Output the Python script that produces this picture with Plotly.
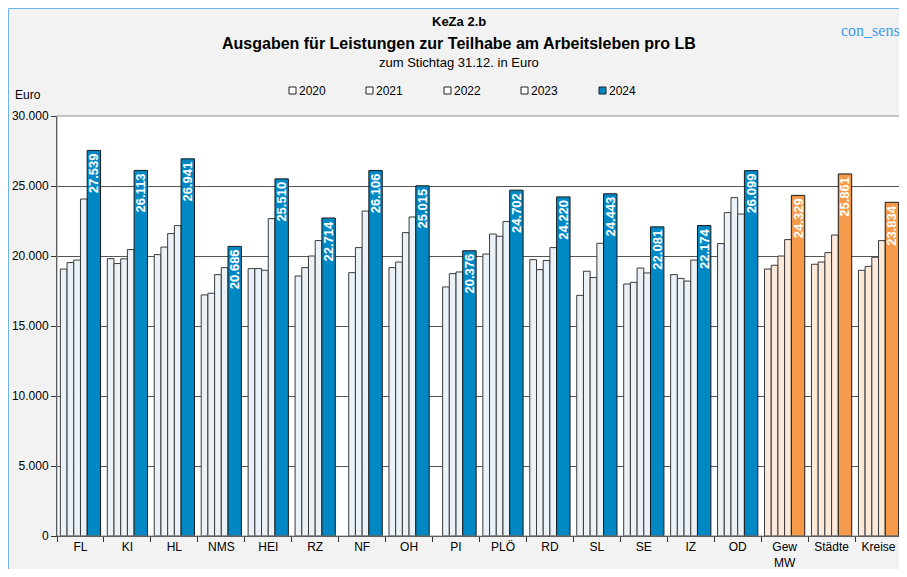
import plotly.graph_objects as go

# Kategorien und Werte
cats = ["FL", "KI", "HL", "NMS", "HEI", "RZ", "NF", "OH", "PI", "PLÖ",
        "RD", "SL", "SE", "IZ", "OD", "Gew<br>MW", "Städte", "Kreise"]
years = ["2020", "2021", "2022", "2023", "2024"]

v2020 = [19070, 19810, 20100, 17220, 19100, 18570, None, 19170, None, 20140,
         19740, 17190, 18000, 18670, 20890, 19070, 19410, 18980]
v2021 = [19530, 19460, 20640, 17340, 19100, 19170, 18810, 19570, 17790, 21570,
         19030, 18910, 18120, 18400, 23100, 19340, 19570, 19260]
v2022 = [19710, 19800, 21600, 18670, 18980, 20000, 20600, 21670, 18740, 21410,
         19680, 18460, 19140, 18210, 24170, 20000, 20240, 19910]
v2023 = [24070, 20460, 22170, 19170, 22670, 21100, 23210, 22790, 18860, 22460,
         20600, 20910, 18790, 19710, 23000, 21170, 21500, 21100]
v2024 = [27539, 26113, 26941, 20686, 25510, 22714, 26106, 25015, 20376, 24702,
         24220, 24443, 22081, 22174, 26099, 24329, 25861, 23834]

n_ref = 3  # Gew MW, Städte, Kreise in Orange

LIGHT = "#EAF2F8"
LIGHT_OR = "#FDE9D9"
BLUE = "#0088C4"
ORANGE = "#F59A4A"
EDGE = "#3a3a3a"
FONT = "Liberation Sans"

# Seite 907x577, Body hat 8px Rand -> Figur kleiner, damit nichts scrollt
OFF = 8
W, H = 907 - OFF, 577 - 2 * OFF
ML, MR, MT = 57 - OFF, 5, 116 - OFF
MB = H - (536 - OFF)
PW, PH = W - ML - MR, H - MT - MB


def px(x):
    # Seitenkoordinate -> paper
    return (x - OFF - ML) / PW


def py(y):
    return (H - MB - (y - OFF)) / PH


fig = go.Figure()

unit = 1 / 7
light_cols = [LIGHT] * (len(cats) - n_ref) + [LIGHT_OR] * n_ref
for i, vals in enumerate([v2020, v2021, v2022, v2023]):
    fig.add_trace(go.Bar(
        x=cats, y=vals, name=years[i],
        offset=-3 * unit + i * unit, width=unit,
        marker=dict(color=light_cols, line=dict(color=EDGE, width=1)),
        showlegend=False, hoverinfo="x+y",
    ))

fig.add_trace(go.Bar(
    x=cats, y=v2024, name="2024",
    offset=unit, width=2 * unit,
    marker=dict(color=[BLUE] * (len(cats) - n_ref) + [ORANGE] * n_ref,
                line=dict(color="#1a1a1a", width=1)),
    texttemplate="%{y:,.0f}", textposition="inside",
    insidetextanchor="end", textangle=-90, constraintext="none",
    textfont=dict(family=FONT, size=13, color="white", weight="bold"),
    showlegend=False, hoverinfo="x+y",
))

shapes = [
    # blauer Rahmen
    dict(type="line", xref="paper", yref="paper", x0=px(8.5), x1=px(8.5),
         y0=py(600), y1=py(8.5), line=dict(color="#6CB4E4", width=1)),
    dict(type="line", xref="paper", yref="paper", x0=px(8.5), x1=px(930),
         y0=py(8.5), y1=py(8.5), line=dict(color="#6CB4E4", width=1)),
    # Rahmen der Zeichenfläche
    dict(type="rect", xref="paper", yref="paper", x0=0, x1=1, y0=0, y1=1,
         line=dict(color="#8c8c8c", width=1), layer="above"),
]

annotations = [
    dict(text="<b>KeZa 2.b</b>", x=px(459), y=py(22), font=dict(size=13)),
    dict(text="<b>Ausgaben für Leistungen zur Teilhabe am Arbeitsleben pro LB</b>",
         x=px(459), y=py(44), font=dict(size=16)),
    dict(text="zum Stichtag 31.12. in Euro", x=px(459), y=py(62),
         font=dict(size=13)),
    dict(text="con_sens", x=px(902), y=py(30), xanchor="right",
         font=dict(size=16, family="Liberation Serif", color="#3D9BF0")),
    dict(text="Euro", x=px(13), y=py(95), xanchor="left", font=dict(size=12)),
]

# Legende von Hand
leg_x = [289, 366, 444, 521, 599]
for i, yr in enumerate(years):
    shapes.append(dict(
        type="rect", xref="paper", yref="paper",
        x0=px(leg_x[i]), x1=px(leg_x[i] + 7), y0=py(94), y1=py(87),
        fillcolor=BLUE if yr == "2024" else "white",
        line=dict(color="#222222", width=1),
    ))
    annotations.append(dict(text=yr, x=px(leg_x[i] + 8), y=py(90.5),
                            xanchor="left", font=dict(size=12)))

for a in annotations:
    a.setdefault("xref", "paper")
    a.setdefault("yref", "paper")
    a.setdefault("showarrow", False)
    a.setdefault("yanchor", "middle")

fig.update_layout(
    width=W, height=H,
    margin=dict(l=ML, r=MR, t=MT, b=MB, autoexpand=False),
    paper_bgcolor="#F2F2F2", plot_bgcolor="white",
    barmode="overlay", separators=",.",
    font=dict(family=FONT, size=12, color="black"),
    shapes=shapes, annotations=annotations,
    showlegend=False,
    xaxis=dict(
        type="category", range=[-0.5, len(cats) - 0.5],
        tickson="boundaries", ticks="outside", ticklen=5,
        tickcolor="#333333", showline=True, linecolor="#333333",
        showgrid=False, tickfont=dict(size=12), automargin=False,
    ),
    yaxis=dict(
        range=[0, 30000], dtick=5000, tickformat=",d",
        ticks="outside", ticklen=5, tickcolor="#333333",
        showline=True, linecolor="#333333",
        gridcolor="#555555", gridwidth=1, zeroline=False,
        tickfont=dict(size=12), automargin=False,
    ),
)

fig.write_html("out.html")
